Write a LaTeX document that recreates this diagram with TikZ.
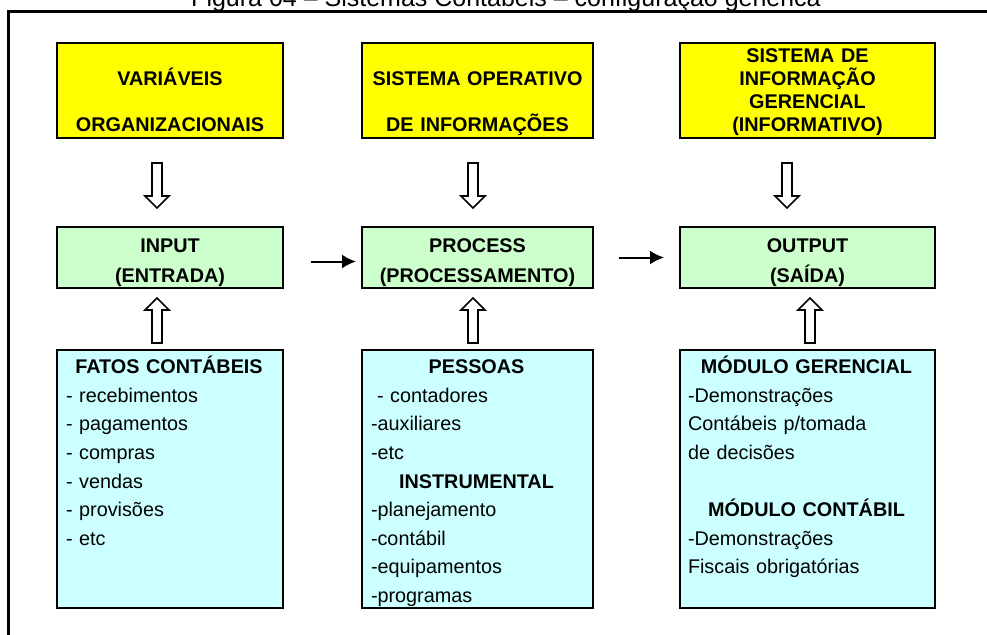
\documentclass[tikz,border=0pt]{standalone}
\usepackage{fontspec}
\setmainfont{Liberation Sans}
\usetikzlibrary{calc,arrows.meta}

\definecolor{amarelo}{HTML}{FFFF00}
\definecolor{verde}{HTML}{CCFFCC}
\definecolor{ciano}{HTML}{CCFFFF}

\newcommand{\cabeca}[1]{\makebox[\linewidth]{\bfseries #1}}

\begin{document}
\begin{tikzpicture}[x=0.5pt, y=-0.5pt]
\tikzset{
    caixa/.style={rectangle, draw, line width=1.4pt, inner sep=0pt},
    topo/.style={caixa, fill=amarelo, minimum height=47.5pt},
    meio/.style={caixa, fill=verde, line width=1pt, minimum height=30.5pt},
    lista/.style={caixa, fill=ciano, minimum height=129pt},
    titulo/.style={font=\bfseries\fontsize{9.9}{11.5}\selectfont, align=center, anchor=base, inner sep=0pt},
    itens/.style={font=\fontsize{9.9}{14.3}\selectfont, align=left, anchor=base west, inner sep=0pt},
    seta/.style={-{Latex[length=7pt, width=7pt]}, line width=1pt},
    vazada/.pic={
        \draw[line width=0.8pt, fill=white] (-5,-22.5) -- (5,-22.5) -- (5,10.5) -- (12,10.5)
            -- (0,22.5) -- (-12,10.5) -- (-5,10.5) -- cycle;
    }
}
\useasboundingbox (0,0) rectangle (987,634);

% moldura e titulo
\draw[line width=1.5pt] (1000,11.5) -- (8.5,11.5) -- (8.5,650);
\node[font=\fontsize{12.5}{15}\selectfont, anchor=base, inner sep=0pt] (tit) at (506,6)
    {Figura 04 -- Sistemas Contábeis -- configuração genérica};

% linha de cima
\node[topo, minimum width=113pt] (var) at (170,90.5) {};
\node[topo, minimum width=115.5pt] (sop) at (477.5,90.5) {};
\node[topo, minimum width=127.5pt] (sig) at (807.5,90.5) {};
\node[titulo, text width=113pt] (tvar) at ($(var.north)+(0,44)$) {VARIÁVEIS\\[11.5pt]ORGANIZACIONAIS};
\node[titulo, text width=115.5pt] (tsop) at ($(sop.north)+(0,44)$) {SISTEMA OPERATIVO\\[11.5pt]DE INFORMAÇÕES};
\node[titulo, text width=127.5pt] (tsig) at ($(sig.north)+(0,20.5)$) {SISTEMA DE\\INFORMAÇÃO\\GERENCIAL\\(INFORMATIVO)};

% linha do meio
\node[meio, minimum width=113pt] (inp) at (170,257.5) {};
\node[meio, minimum width=115.5pt] (proc) at (477.5,257.5) {};
\node[meio, minimum width=127.5pt] (outp) at (807.5,257.5) {};
\node[titulo, font=\bfseries\fontsize{9.9}{15}\selectfont, text width=113pt] (tinp) at ($(inp.north)+(0,26)$) {INPUT\\(ENTRADA)};
\node[titulo, font=\bfseries\fontsize{9.9}{15}\selectfont, text width=115.5pt] (tproc) at ($(proc.north)+(0,26)$) {PROCESS\\(PROCESSAMENTO)};
\node[titulo, font=\bfseries\fontsize{9.9}{15}\selectfont, text width=127.5pt] (toutp) at ($(outp.north)+(0,26)$) {OUTPUT\\(SAÍDA)};

% linha de baixo
\node[lista, minimum width=113pt] (fatos) at (170,479) {};
\node[lista, minimum width=115.5pt] (pess) at (477.5,479) {};
\node[lista, minimum width=127.5pt] (modu) at (807.5,479) {};
\node[itens, text width=103pt] (tfatos) at ($(fatos.north west)+(10,25)$)
    {\cabeca{FATOS CONTÁBEIS}\\- recebimentos\\- pagamentos\\- compras\\- vendas\\- provisões\\- etc};
\node[itens, text width=105.5pt] (tpess) at ($(pess.north west)+(10,25)$)
    {\cabeca{PESSOAS}\\\hspace*{3pt}- contadores\\-auxiliares\\-etc\\
     \cabeca{INSTRUMENTAL}\\-planejamento\\-contábil\\-equipamentos\\-programas};
\node[itens, text width=118.5pt] (tmodu) at ($(modu.north west)+(9,25)$)
    {\cabeca{MÓDULO GERENCIAL}\\-Demonstrações\\Contábeis p/tomada\\de decisões\\[14.3pt]
     \cabeca{MÓDULO CONTÁBIL}\\-Demonstrações\\Fiscais obrigatórias};

% setas vazadas
\pic at (157,185.5) {vazada};
\pic at (473,185.5) {vazada};
\pic at (787,185.5) {vazada};
\pic[rotate=180] at (157,320.5) {vazada};
\pic[rotate=180] at (473,320.5) {vazada};
\pic[rotate=180] at (810,320.5) {vazada};

% setas cheias
\draw[seta] ([xshift=13.5pt, yshift=-2pt]inp.east) -- ([xshift=-2.5pt, yshift=-2pt]proc.west);
\draw[seta] ([xshift=12.5pt]proc.east) -- ([xshift=-7.5pt]outp.west);
\end{tikzpicture}
\end{document}
